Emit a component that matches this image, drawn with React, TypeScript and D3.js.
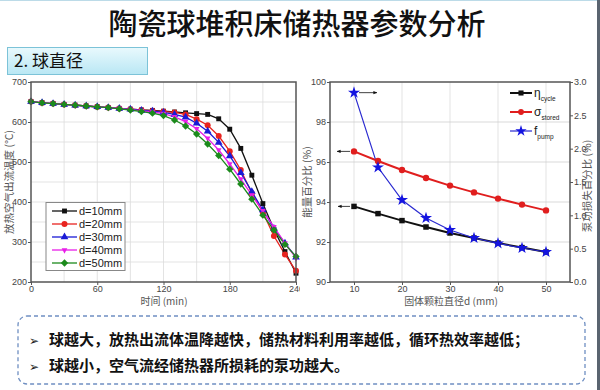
import { useEffect, useRef } from 'react';
import * as d3 from 'd3';

// left chart: outlet air temperature during discharge
const timeMin = [0, 10, 20, 30, 40, 50, 60, 70, 80, 90, 100, 110, 120, 130, 140, 150, 160, 170, 180, 190, 200, 210, 220, 230, 240];
const tempD10 = [651, 648, 646, 644, 642, 640, 638, 636, 634, 632, 630, 629, 627, 625, 623, 621, 619, 608, 582, 534, 467, 396, 332, 276, 222];
const tempD20 = [651, 648, 646, 644, 642, 640, 638, 636, 634, 632, 630, 628, 626, 624, 619, 607, 592, 565, 527, 480, 422, 374, 315, 269, 228];
const tempD30 = [651, 648, 646, 644, 642, 640, 638, 636, 634, 632, 629, 627, 624, 619, 612, 597, 577, 549, 515, 473, 426, 380, 334, 297, 262];
const tempD40 = [651, 648, 646, 644, 642, 640, 638, 636, 634, 631, 628, 625, 621, 613, 601, 583, 559, 530, 495, 457, 417, 378, 338, 297, 260];
const tempD50 = [651, 648, 646, 644, 642, 640, 638, 636, 633, 630, 626, 622, 616, 605, 590, 570, 545, 516, 482, 445, 407, 367, 330, 294, 264];
const seriesNames = ['d=10mm', 'd=20mm', 'd=30mm', 'd=40mm', 'd=50mm'];
const timeTicks = [0, 60, 120, 180, 240];
const tempTicks = [200, 300, 400, 500, 600, 700];

// right chart: efficiency vs particle diameter
const diameter = [10, 15, 20, 25, 30, 35, 40, 45, 50];
const etaCycle = [93.78, 93.42, 93.07, 92.75, 92.45, 92.2, 91.95, 91.72, 91.5];
const sigmaStored = [96.53, 96.05, 95.6, 95.2, 94.82, 94.48, 94.17, 93.87, 93.58];
const fPump = [2.84, 1.72, 1.23, 0.96, 0.78, 0.66, 0.58, 0.51, 0.45];
const diaTicks = [10, 20, 30, 40, 50];
const pctTicks = [90, 92, 94, 96, 98, 100];
const pumpTicks = [0, 0.5, 1, 1.5, 2, 2.5, 3];

const bullets = [
  '球越大，放热出流体温降越快，储热材料利用率越低，循环热效率越低；',
  '球越小，空气流经储热器所损耗的泵功越大。',
];

const latin = '"Liberation Sans", Arial, sans-serif';
const cjk = '"Noto Sans CJK SC", sans-serif';

export default function App() {
  const svgRef = useRef<SVGSVGElement>(null);

  useEffect(() => {
    if (!svgRef.current) return;
    const svg = d3.select(svgRef.current);
    svg.selectAll('*').remove();

    const defs = svg.append('defs');
    const grad = defs.append('linearGradient').attr('id', 'secGrad').attr('x1', 0).attr('y1', 0).attr('x2', 0).attr('y2', 1);
    grad.append('stop').attr('offset', '0%').attr('stop-color', '#e9f9fd');
    grad.append('stop').attr('offset', '100%').attr('stop-color', '#b9e7f4');
    defs
      .append('marker')
      .attr('id', 'arrow')
      .attr('viewBox', '0 0 10 10')
      .attr('refX', 9)
      .attr('refY', 5)
      .attr('markerWidth', 5)
      .attr('markerHeight', 5)
      .attr('orient', 'auto')
      .append('path')
      .attr('d', 'M0,1 L10,5 L0,9 Z')
      .attr('fill', '#111');

    svg.append('rect').attr('width', 600).attr('height', 390).attr('fill', '#fff');
    svg.append('line').attr('x1', 0).attr('x2', 600).attr('y1', 0.5).attr('y2', 0.5).attr('stroke', '#bcdbe8');
    svg.append('rect').attr('x', 597).attr('y', 0).attr('width', 3).attr('height', 390).attr('fill', '#5a6470');

    // title
    svg
      .append('text')
      .attr('x', 297)
      .attr('y', 35)
      .attr('text-anchor', 'middle')
      .style('font-family', cjk)
      .style('font-size', '29px')
      .style('font-weight', '500')
      .style('fill', '#111')
      .text('陶瓷球堆积床储热器参数分析');

    svg
      .append('rect')
      .attr('x', 7.5)
      .attr('y', 47.5)
      .attr('width', 140)
      .attr('height', 27)
      .attr('fill', 'url(#secGrad)')
      .attr('stroke', '#7cc3d8');
    svg
      .append('text')
      .attr('x', 14)
      .attr('y', 67)
      .style('font-family', cjk)
      .style('font-size', '17px')
      .style('fill', '#111')
      .text('2. 球直径');

    // ---------- left chart ----------
    const L = { l: 31, r: 296, t: 82, b: 282 };
    const x1 = d3.scaleLinear().domain([0, 240]).range([L.l, L.r]);
    const y1 = d3.scaleLinear().domain([200, 700]).range([L.b, L.t]);
    const g1 = svg.append('g');

    g1.selectAll('.vg')
      .data(d3.range(30, 240, 30))
      .enter()
      .append('line')
      .attr('x1', (d) => x1(d))
      .attr('x2', (d) => x1(d))
      .attr('y1', L.t)
      .attr('y2', L.b)
      .attr('stroke', '#dcdcdc')
      .attr('stroke-width', 0.8);
    g1.selectAll('.hg')
      .data(d3.range(250, 700, 50))
      .enter()
      .append('line')
      .attr('x1', L.l)
      .attr('x2', L.r)
      .attr('y1', (d) => y1(d))
      .attr('y2', (d) => y1(d))
      .attr('stroke', '#dcdcdc')
      .attr('stroke-width', 0.8);

    const tempSeries = [tempD10, tempD20, tempD30, tempD40, tempD50];
    const colors = ['#111111', '#e8231f', '#1a1ad6', '#e81ee8', '#1c8a1c'];
    const downTri: d3.SymbolType = {
      draw(ctx, size) {
        const h = Math.sqrt(size * 1.2);
        ctx.moveTo(-h / 2, -h / 3);
        ctx.lineTo(h / 2, -h / 3);
        ctx.lineTo(0, (h * 2) / 3);
        ctx.closePath();
      },
    };
    const diamond = (d3 as any).symbolDiamond2 ?? d3.symbolDiamond;
    const symbols = [d3.symbolSquare, d3.symbolCircle, d3.symbolTriangle, downTri, diamond];
    const symSizes = [24, 28, 26, 26, 34];

    const line1 = d3
      .line<number>()
      .x((_, i) => x1(timeMin[i]))
      .y((d) => y1(d));

    tempSeries.forEach((vals, k) => {
      g1.append('path')
        .datum(vals)
        .attr('d', line1)
        .attr('fill', 'none')
        .attr('stroke', colors[k])
        .attr('stroke-width', 1.3);
    });
    tempSeries.forEach((vals, k) => {
      g1.selectAll(`.m${k}`)
        .data(vals)
        .enter()
        .append('path')
        .attr('transform', (d, i) => `translate(${x1(timeMin[i])},${y1(d)})`)
        .attr('d', d3.symbol(symbols[k], symSizes[k]))
        .attr('fill', colors[k]);
    });

    g1.append('rect')
      .attr('x', L.l)
      .attr('y', L.t)
      .attr('width', L.r - L.l)
      .attr('height', L.b - L.t)
      .attr('fill', 'none')
      .attr('stroke', '#555')
      .attr('stroke-width', 1.5);

    const ax1 = g1
      .append('g')
      .attr('transform', `translate(0,${L.b})`)
      .call(d3.axisBottom(x1).tickValues(timeTicks).tickSize(3).tickPadding(1));
    const ay1 = g1
      .append('g')
      .attr('transform', `translate(${L.l},0)`)
      .call(d3.axisLeft(y1).tickValues(tempTicks).tickSize(3).tickPadding(1));
    [ax1, ay1].forEach((a) => {
      a.select('.domain').remove();
      a.selectAll('line').attr('stroke', '#555');
      a.selectAll('text').style('font-family', latin).style('font-size', '9px').style('fill', '#444');
    });

    // legend
    const lg = g1.append('g');
    lg.append('rect').attr('x', 46).attr('y', 202.5).attr('width', 79).attr('height', 68).attr('fill', '#fff').attr('stroke', '#888');
    seriesNames.forEach((name, k) => {
      const yy = 211 + k * 13;
      lg.append('line').attr('x1', 52).attr('x2', 77).attr('y1', yy).attr('y2', yy).attr('stroke', colors[k]).attr('stroke-width', 1.3);
      lg.append('path')
        .attr('transform', `translate(64.5,${yy})`)
        .attr('d', d3.symbol(symbols[k], symSizes[k]))
        .attr('fill', colors[k]);
      lg.append('text')
        .attr('x', 79)
        .attr('y', yy + 4)
        .style('font-family', latin)
        .style('font-size', '11px')
        .style('fill', '#222')
        .text(name);
    });

    g1.append('text')
      .attr('x', 164)
      .attr('y', 305)
      .attr('text-anchor', 'middle')
      .style('font-family', cjk)
      .style('font-size', '10px')
      .style('fill', '#555')
      .text('时间 (min)');
    g1.append('text')
      .attr('transform', 'translate(13,182) rotate(-90)')
      .attr('text-anchor', 'middle')
      .style('font-family', cjk)
      .style('font-size', '10.5px')
      .style('fill', '#555')
      .text('放热空气出流温度 (℃)');

    // ---------- right chart ----------
    const R = { l: 330, r: 570, t: 82, b: 282 };
    const g2 = svg.append('g');
    g2.append('rect').attr('x', 300).attr('y', 78).attr('width', 296).attr('height', 228).attr('fill', '#fff');
    const x2 = d3.scaleLinear().domain([5, 55]).range([R.l, R.r]);
    const y2 = d3.scaleLinear().domain([90, 100]).range([R.b, R.t]);
    const y2r = d3.scaleLinear().domain([0, 3]).range([R.b, R.t]);

    g2.selectAll('.vg')
      .data(diaTicks)
      .enter()
      .append('line')
      .attr('x1', (d) => x2(d))
      .attr('x2', (d) => x2(d))
      .attr('y1', R.t)
      .attr('y2', R.b)
      .attr('stroke', '#dcdcdc')
      .attr('stroke-width', 0.8);
    g2.selectAll('.hg')
      .data(pctTicks.slice(1, -1))
      .enter()
      .append('line')
      .attr('x1', R.l)
      .attr('x2', R.r)
      .attr('y1', (d) => y2(d))
      .attr('y2', (d) => y2(d))
      .attr('stroke', '#cfcfcf')
      .attr('stroke-width', 0.8);

    const lineL = d3
      .line<number>()
      .x((_, i) => x2(diameter[i]))
      .y((d) => y2(d));
    const lineR = d3
      .line<number>()
      .x((_, i) => x2(diameter[i]))
      .y((d) => y2r(d));

    g2.append('path').datum(sigmaStored).attr('d', lineL).attr('fill', 'none').attr('stroke', '#e01e1e').attr('stroke-width', 2);
    g2.append('path').datum(etaCycle).attr('d', lineL).attr('fill', 'none').attr('stroke', '#111').attr('stroke-width', 2);
    g2.append('path').datum(fPump).attr('d', lineR).attr('fill', 'none').attr('stroke', '#2a2ad0').attr('stroke-width', 1.2);

    g2.selectAll('.ms')
      .data(sigmaStored)
      .enter()
      .append('circle')
      .attr('cx', (_, i) => x2(diameter[i]))
      .attr('cy', (d) => y2(d))
      .attr('r', 3.2)
      .attr('fill', '#e01e1e');
    g2.selectAll('.me')
      .data(etaCycle)
      .enter()
      .append('path')
      .attr('transform', (d, i) => `translate(${x2(diameter[i])},${y2(d)})`)
      .attr('d', d3.symbol(d3.symbolSquare, 30))
      .attr('fill', '#111');
    g2.selectAll('.mf')
      .data(fPump)
      .enter()
      .append('path')
      .attr('transform', (d, i) => `translate(${x2(diameter[i])},${y2r(d)})`)
      .attr('d', d3.symbol(d3.symbolStar, 45))
      .attr('fill', '#1414e0');

    // arrows pointing to the axis each series belongs to
    const arrow = (xa: number, xb: number, yy: number) =>
      g2.append('line')
        .attr('x1', xa)
        .attr('x2', xb)
        .attr('y1', yy)
        .attr('y2', yy)
        .attr('stroke', '#111')
        .attr('stroke-width', 0.8)
        .attr('marker-end', 'url(#arrow)');
    arrow(x2(diameter[0]) + 5, x2(diameter[0]) + 23, y2r(fPump[0]));
    arrow(x2(diameter[0]) - 4, x2(diameter[0]) - 17, y2(sigmaStored[0]));
    arrow(x2(diameter[0]) - 4, x2(diameter[0]) - 16, y2(etaCycle[0]));

    g2.append('rect')
      .attr('x', R.l)
      .attr('y', R.t)
      .attr('width', R.r - R.l)
      .attr('height', R.b - R.t)
      .attr('fill', 'none')
      .attr('stroke', '#555')
      .attr('stroke-width', 1.5);

    const ax2 = g2
      .append('g')
      .attr('transform', `translate(0,${R.b})`)
      .call(d3.axisBottom(x2).tickValues(diaTicks).tickSize(3).tickPadding(1));
    const ay2 = g2
      .append('g')
      .attr('transform', `translate(${R.l},0)`)
      .call(d3.axisLeft(y2).tickValues(pctTicks).tickSize(3).tickPadding(1));
    const ay2r = g2
      .append('g')
      .attr('transform', `translate(${R.r},0)`)
      .call(d3.axisRight(y2r).tickValues(pumpTicks).tickFormat(d3.format('.1f')).tickSize(3).tickPadding(1));
    [ax2, ay2, ay2r].forEach((a) => {
      a.select('.domain').remove();
      a.selectAll('line').attr('stroke', '#555');
      a.selectAll('text').style('font-family', latin).style('font-size', '9px').style('fill', '#444');
    });

    // legend
    const lg2 = g2.append('g');
    const legItems = [
      { sym: 'η', sub: 'cycle', color: '#111', mark: 'sq' },
      { sym: 'σ', sub: 'stored', color: '#e01e1e', mark: 'ci' },
      { sym: 'f', sub: 'pump', color: '#2a2ad0', mark: 'st' },
    ];
    legItems.forEach((it, k) => {
      const yy = 93 + k * 19;
      lg2.append('line').attr('x1', 510).attr('x2', 532).attr('y1', yy).attr('y2', yy).attr('stroke', it.color).attr('stroke-width', it.mark === 'st' ? 1.2 : 2);
      const sym = it.mark === 'sq' ? d3.symbolSquare : it.mark === 'ci' ? d3.symbolCircle : d3.symbolStar;
      lg2.append('path')
        .attr('transform', `translate(521,${yy})`)
        .attr('d', d3.symbol(sym, it.mark === 'st' ? 40 : 26))
        .attr('fill', it.mark === 'st' ? '#1414e0' : it.color);
      const t = lg2
        .append('text')
        .attr('x', 534)
        .attr('y', yy + 4)
        .style('font-family', latin)
        .style('font-size', '12px')
        .style('fill', '#222');
      t.append('tspan').text(it.sym);
      t.append('tspan').attr('dy', 4).style('font-size', '6.5px').text(it.sub);
    });

    g2.append('text')
      .attr('x', 451)
      .attr('y', 305)
      .attr('text-anchor', 'middle')
      .style('font-family', cjk)
      .style('font-size', '10px')
      .style('fill', '#555')
      .text('固体颗粒直径d (mm)');
    g2.append('text')
      .attr('transform', 'translate(311,182) rotate(-90)')
      .attr('text-anchor', 'middle')
      .style('font-family', cjk)
      .style('font-size', '10.5px')
      .style('fill', '#555')
      .text('能量百分比 (%)');
    g2.append('text')
      .attr('transform', 'translate(591,186) rotate(-90)')
      .attr('text-anchor', 'middle')
      .style('font-family', cjk)
      .style('font-size', '10.5px')
      .style('fill', '#555')
      .text('泵功损失百分比 (%)');

    // ---------- conclusions ----------
    svg
      .append('rect')
      .attr('x', 18)
      .attr('y', 316)
      .attr('width', 567)
      .attr('height', 68)
      .attr('rx', 9)
      .attr('fill', '#fff')
      .attr('stroke', '#6f8fc2')
      .attr('stroke-width', 1.3)
      .attr('stroke-dasharray', '4 3');
    bullets.forEach((txt, i) => {
      const yy = 345 + i * 26;
      svg
        .append('text')
        .attr('x', 29)
        .attr('y', yy)
        .style('font-family', cjk)
        .style('font-size', '12px')
        .style('fill', '#222')
        .text('➢');
      svg
        .append('text')
        .attr('x', 49)
        .attr('y', yy)
        .style('font-family', cjk)
        .style('font-size', '15px')
        .style('font-weight', '700')
        .style('fill', '#111')
        .text(txt);
    });
  }, []);

  return (
    <svg
      ref={svgRef}
      width={600}
      height={390}
      style={{ position: 'absolute', left: 0, top: 0, display: 'block' }}
    />
  );
}
